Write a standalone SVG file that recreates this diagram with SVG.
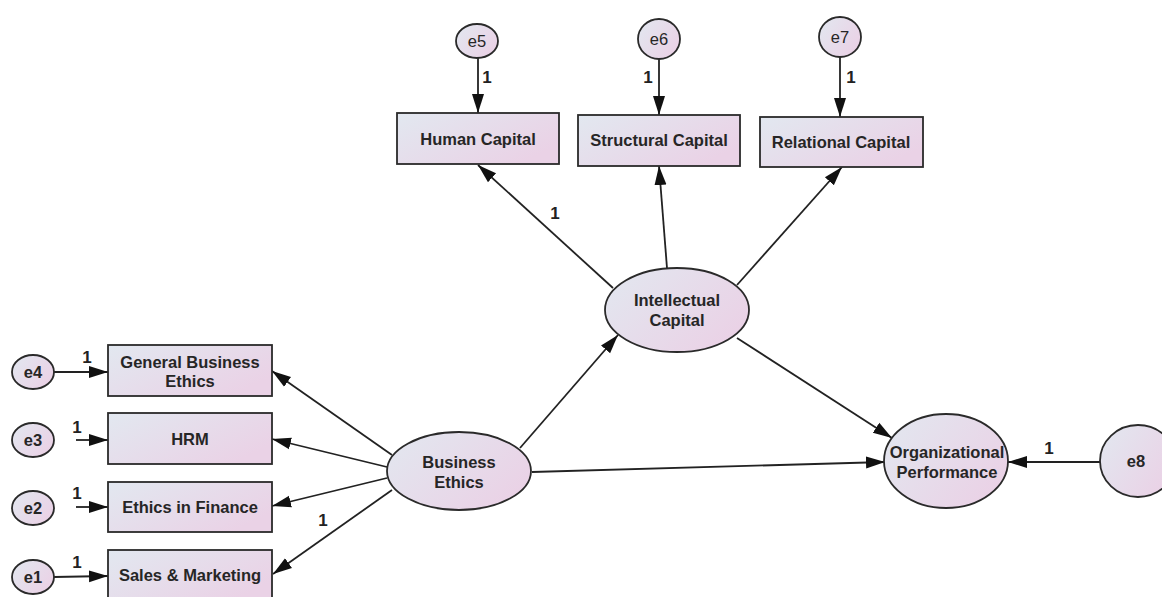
<svg xmlns="http://www.w3.org/2000/svg" width="1162" height="597" viewBox="0 0 1162 597">
<style>
.n{fill:url(#g);stroke:#2a2a2a;stroke-width:1.8}
.t{font-family:"Liberation Sans",Arial,sans-serif;font-weight:bold;font-size:16.5px;fill:#262626;text-anchor:middle}
.e{font-family:"Liberation Sans",Arial,sans-serif;font-size:16.5px;fill:#262626;text-anchor:middle}
.c line{stroke:#222;stroke-width:1.8;marker-end:url(#a)}
.l{font-family:"Liberation Sans",Arial,sans-serif;font-weight:bold;font-size:17px;fill:#222;text-anchor:middle}
</style>
<defs>
<linearGradient id="g" x1="0" y1="0" x2="1" y2="0.6">
<stop offset="0" stop-color="#e2e8f0"/>
<stop offset="1" stop-color="#ead2e6"/>
</linearGradient>
<marker id="a" markerUnits="userSpaceOnUse" markerWidth="20" markerHeight="14" refX="19" refY="7" orient="auto">
<path d="M0,1 L19,7 L0,13 z" fill="#111"/>
</marker>
</defs>
<rect width="1162" height="597" fill="#fff"/>
<g class="c" id="connectors">
<line x1="54" y1="372" x2="108" y2="372"/>
<line x1="76" y1="440" x2="108" y2="440"/>
<line x1="76" y1="507" x2="108" y2="507"/>
<line x1="54" y1="577" x2="108" y2="576"/>
<line x1="478" y1="58" x2="478" y2="113"/>
<line x1="659" y1="59" x2="659" y2="115"/>
<line x1="840" y1="57" x2="840" y2="117"/>
<line x1="1100" y1="462" x2="1008" y2="462"/>
<line x1="392" y1="455" x2="272" y2="371"/>
<line x1="387" y1="467" x2="272" y2="439"/>
<line x1="387" y1="478" x2="272" y2="506"/>
<line x1="392" y1="490" x2="273" y2="574"/>
<line x1="520" y1="448" x2="618" y2="335"/>
<line x1="532" y1="472" x2="885" y2="462"/>
<line x1="613" y1="288" x2="478" y2="165"/>
<line x1="667" y1="268" x2="659" y2="166"/>
<line x1="737" y1="285" x2="842" y2="167"/>
<line x1="737" y1="338" x2="892" y2="438"/>
</g>
<g id="labels">
<text class="l" x="87" y="363">1</text>
<text class="l" x="77" y="433">1</text>
<text class="l" x="77" y="499">1</text>
<text class="l" x="77" y="568">1</text>
<text class="l" x="487" y="83">1</text>
<text class="l" x="648" y="83">1</text>
<text class="l" x="851" y="83">1</text>
<text class="l" x="1049" y="454">1</text>
<text class="l" x="555" y="219">1</text>
<text class="l" x="323" y="526">1</text>
</g>
<g id="e4"><ellipse class="n" cx="33" cy="372" rx="21" ry="17"/><text class="t" x="33" y="378">e4</text></g>
<g id="e3"><ellipse class="n" cx="33" cy="440" rx="21" ry="17"/><text class="t" x="33" y="446">e3</text></g>
<g id="e2"><ellipse class="n" cx="33" cy="508" rx="21" ry="17"/><text class="t" x="33" y="514">e2</text></g>
<g id="e1"><ellipse class="n" cx="33" cy="577" rx="21" ry="17"/><text class="t" x="33" y="583">e1</text></g>
<g id="e5"><ellipse class="n" cx="477" cy="41" rx="21" ry="17"/><text class="e" x="477" y="47">e5</text></g>
<g id="e6"><ellipse class="n" cx="659" cy="39" rx="21" ry="20"/><text class="e" x="659" y="45">e6</text></g>
<g id="e7"><ellipse class="n" cx="840" cy="37" rx="21" ry="20"/><text class="e" x="840" y="43">e7</text></g>
<g id="e8"><ellipse class="n" cx="1138" cy="461" rx="38" ry="36"/><text class="t" x="1136" y="467">e8</text></g>
<g id="general-business-ethics"><rect class="n" x="108" y="345" width="164" height="51"/><text class="t" x="190" y="368">General Business</text><text class="t" x="190" y="387">Ethics</text></g>
<g id="hrm"><rect class="n" x="108" y="413" width="164" height="51"/><text class="t" x="190" y="445">HRM</text></g>
<g id="ethics-in-finance"><rect class="n" x="108" y="482" width="164" height="50"/><text class="t" x="190" y="513">Ethics in Finance</text></g>
<g id="sales-marketing"><rect class="n" x="108" y="550" width="164" height="51"/><text class="t" x="190" y="581">Sales &amp; Marketing</text></g>
<g id="human-capital"><rect class="n" x="397" y="113" width="162" height="51"/><text class="t" x="478" y="145">Human Capital</text></g>
<g id="structural-capital"><rect class="n" x="578" y="115" width="162" height="51"/><text class="t" x="659" y="146">Structural Capital</text></g>
<g id="relational-capital"><rect class="n" x="760" y="117" width="163" height="50"/><text class="t" x="841" y="148">Relational Capital</text></g>
<g id="intellectual-capital"><ellipse class="n" cx="677" cy="310" rx="72" ry="42"/><text class="t" x="677" y="306">Intellectual</text><text class="t" x="677" y="326">Capital</text></g>
<g id="business-ethics"><ellipse class="n" cx="459" cy="471" rx="72" ry="39"/><text class="t" x="459" y="468">Business</text><text class="t" x="459" y="488">Ethics</text></g>
<g id="organizational-performance"><ellipse class="n" cx="946" cy="461" rx="62" ry="47"/><text class="t" x="947" y="458">Organizational</text><text class="t" x="947" y="478">Performance</text></g>
</svg>
